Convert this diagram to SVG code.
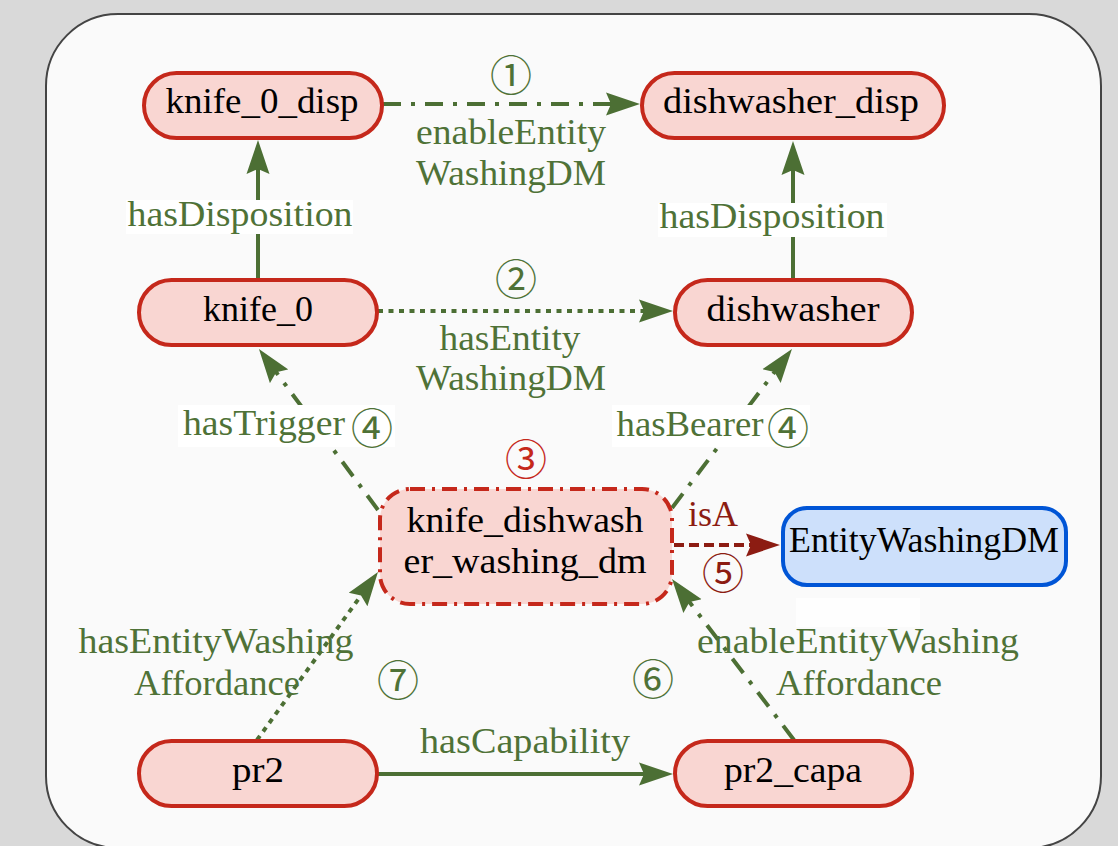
<svg xmlns="http://www.w3.org/2000/svg" width="1118" height="846" viewBox="0 0 1118 846">
<style>
.node{fill:#f9d6d2;stroke:#c5281b;stroke-width:4}
.nt{font-family:"Liberation Serif","Times New Roman",serif;font-size:36px;fill:#000;text-anchor:middle}
.lb{font-family:"Liberation Serif","Times New Roman",serif;font-size:36px;fill:#4f7237;text-anchor:middle}
.cd{font-family:"Noto Sans CJK JP","Noto Sans CJK SC",sans-serif;font-size:42px;text-anchor:middle}
.g{fill:#4f7237}
.e{fill:none;stroke:#4c6f34;stroke-width:4}
.dd{stroke-dasharray:18 10 4 10}
.dt{stroke-dasharray:5 5.5}
.bg{fill:#ffffff}
</style>
<defs>
<marker id="ag" markerUnits="userSpaceOnUse" viewBox="0 0 34 24" markerWidth="34" markerHeight="24" refX="6" refY="12" orient="auto">
<path d="M0,0.5 L34,12 L0,23.5 L5,12 Z" fill="#4c6f34"/>
</marker>
<marker id="ar" markerUnits="userSpaceOnUse" viewBox="0 0 34 24" markerWidth="34" markerHeight="24" refX="6" refY="12" orient="auto">
<path d="M0,0.5 L34,12 L0,23.5 L5,12 Z" fill="#8c1c12"/>
</marker>
</defs>
<rect x="0" y="0" width="1118" height="846" fill="#d9d9d9"/>
<rect x="46" y="14" width="1055" height="834" rx="72" fill="#fafafa" stroke="#444" stroke-width="2"/>
<rect x="796" y="598" width="124" height="29" fill="#fefefe"/>
<g id="connectors">
<line class="e dd" x1="383" y1="104" x2="612" y2="104" marker-end="url(#ag)"/>
<line class="e" x1="258" y1="279" x2="258" y2="168" marker-end="url(#ag)"/>
<line class="e" x1="793" y1="279" x2="793" y2="169" marker-end="url(#ag)"/>
<line class="e dt" x1="378" y1="311" x2="645" y2="311" marker-end="url(#ag)"/>
<line class="e dd" x1="378" y1="510" x2="275.6" y2="371.5" marker-end="url(#ag)"/>
<line class="e dd" x1="672" y1="508" x2="775.1" y2="371.3" marker-end="url(#ag)"/>
<line fill="none" stroke="#8c1c12" stroke-width="4" stroke-dasharray="10 5" x1="674" y1="545" x2="752" y2="545" marker-end="url(#ar)"/>
<line class="e dt" x1="257" y1="740" x2="361.6" y2="594.7" marker-end="url(#ag)"/>
<line class="e dd" x1="794" y1="740" x2="688.9" y2="601.3" marker-end="url(#ag)"/>
<line class="e" x1="378" y1="774" x2="645" y2="774" marker-end="url(#ag)"/>
<rect class="bg" x="126" y="200" width="227" height="34"/>
<rect class="bg" x="658" y="203" width="229" height="34"/>
<rect class="bg" x="178" y="405" width="217" height="42"/>
<rect class="bg" x="612" y="405" width="198" height="42"/>
<text class="cd g" x="511" y="91">①</text>
<text class="lb" x="511" y="144" textLength="190" lengthAdjust="spacingAndGlyphs">enableEntity</text>
<text class="lb" x="511" y="185" textLength="190" lengthAdjust="spacingAndGlyphs">WashingDM</text>
<text class="lb" x="240" y="226" textLength="225" lengthAdjust="spacingAndGlyphs">hasDisposition</text>
<text class="lb" x="772" y="228" textLength="225" lengthAdjust="spacingAndGlyphs">hasDisposition</text>
<text class="cd g" x="516" y="295">②</text>
<text class="lb" x="510" y="350" textLength="141" lengthAdjust="spacingAndGlyphs">hasEntity</text>
<text class="lb" x="511" y="390" textLength="190" lengthAdjust="spacingAndGlyphs">WashingDM</text>
<text class="lb" x="264" y="435" textLength="162" lengthAdjust="spacingAndGlyphs">hasTrigger</text>
<text class="cd g" x="372" y="444">④</text>
<text class="lb" x="690" y="436" textLength="147" lengthAdjust="spacingAndGlyphs">hasBearer</text>
<text class="cd g" x="788" y="444">④</text>
<text class="cd" x="526" y="475" fill="#c5281b">③</text>
<text class="lb" x="713" y="526" style="fill:#8c1c12" textLength="50" lengthAdjust="spacingAndGlyphs">isA</text>
<text class="cd" x="723" y="589" style="fill:#8c1c12">⑤</text>
<text class="lb" x="216" y="653" textLength="275" lengthAdjust="spacingAndGlyphs">hasEntityWashing</text>
<text class="lb" x="217" y="695" textLength="166" lengthAdjust="spacingAndGlyphs">Affordance</text>
<text class="cd g" x="398" y="696">⑦</text>
<text class="cd g" x="653" y="695">⑥</text>
<text class="lb" x="858" y="653" textLength="322" lengthAdjust="spacingAndGlyphs">enableEntityWashing</text>
<text class="lb" x="859" y="695" textLength="166" lengthAdjust="spacingAndGlyphs">Affordance</text>
<text class="lb" x="525" y="753" textLength="210" lengthAdjust="spacingAndGlyphs">hasCapability</text>
</g>
<g id="knife_0_disp">
<rect class="node" x="144" y="73" width="238" height="65" rx="32.5"/>
<text class="nt" x="262" y="113" textLength="193" lengthAdjust="spacingAndGlyphs">knife_0_disp</text>
</g>
<g id="dishwasher_disp">
<rect class="node" x="642" y="73" width="302" height="65" rx="32.5"/>
<text class="nt" x="791" y="113" textLength="256" lengthAdjust="spacingAndGlyphs">dishwasher_disp</text>
</g>
<g id="knife_0">
<rect class="node" x="139" y="280" width="238" height="65" rx="32.5"/>
<text class="nt" x="258" y="321" textLength="110" lengthAdjust="spacingAndGlyphs">knife_0</text>
</g>
<g id="dishwasher">
<rect class="node" x="675" y="280" width="237" height="65" rx="32.5"/>
<text class="nt" x="793" y="321" textLength="173" lengthAdjust="spacingAndGlyphs">dishwasher</text>
</g>
<g id="knife_dishwasher_washing_dm">
<rect class="node" x="380" y="489" width="292" height="115" rx="30" stroke-dasharray="15 7 3 7"/>
<text class="nt" x="525" y="532" textLength="237" lengthAdjust="spacingAndGlyphs">knife_dishwash</text>
<text class="nt" x="525" y="573" textLength="243" lengthAdjust="spacingAndGlyphs">er_washing_dm</text>
</g>
<g id="EntityWashingDM">
<rect x="783" y="508" width="283" height="77" rx="24" fill="#cde0fb" stroke="#0055d6" stroke-width="4"/>
<text class="nt" x="924" y="552" textLength="270" lengthAdjust="spacingAndGlyphs">EntityWashingDM</text>
</g>
<g id="pr2">
<rect class="node" x="139" y="741" width="238" height="65" rx="32.5"/>
<text class="nt" x="258" y="782" textLength="52" lengthAdjust="spacingAndGlyphs">pr2</text>
</g>
<g id="pr2_capa">
<rect class="node" x="675" y="741" width="237" height="65" rx="32.5"/>
<text class="nt" x="793" y="782" textLength="138" lengthAdjust="spacingAndGlyphs">pr2_capa</text>
</g>
</svg>
